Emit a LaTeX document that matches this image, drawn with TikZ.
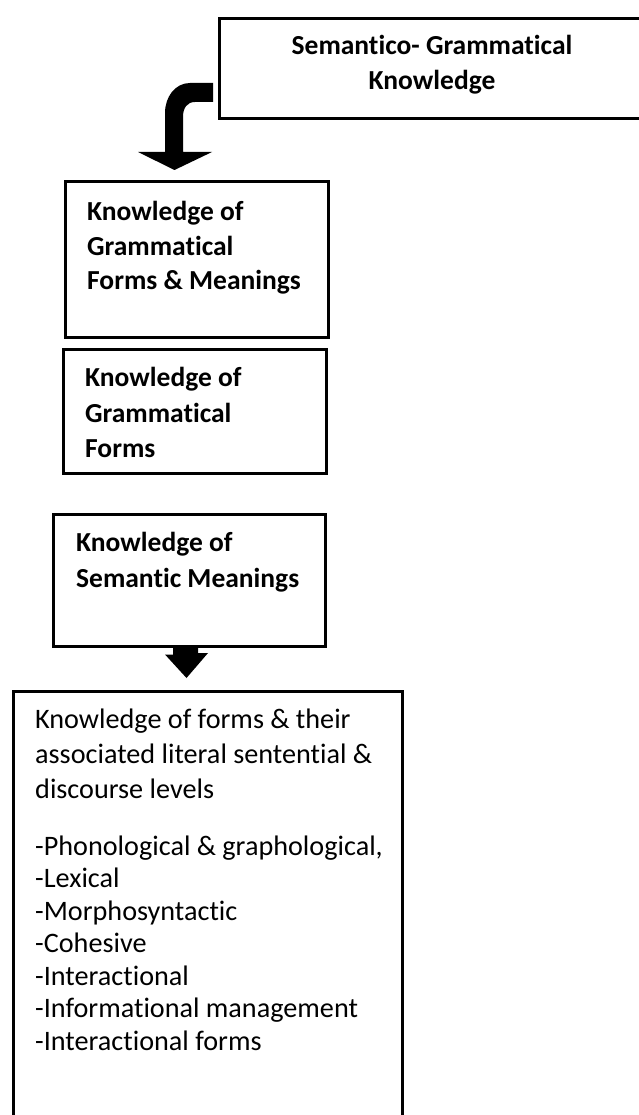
\documentclass[tikz,border=0pt]{standalone}
\usepackage{fontspec}
\setmainfont[Ligatures={NoCommon}]{Carlito}
\usetikzlibrary{calc}
\begin{document}
\begin{tikzpicture}[x=1pt,y=-1pt,
  frame/.style={draw=black, line width=3pt, inner sep=0pt, rectangle},
  heading/.style={font=\fontsize{27.5}{33}\selectfont\bfseries, inner sep=0pt, anchor=base west},
  plain/.style={font=\fontsize{28.2}{33}\selectfont, inner sep=0pt, anchor=base west},
  bigarrow/.style={fill=black, draw=none}]
\useasboundingbox (0,0) rectangle (638,1115);

% top box (runs off the right edge)
\node[frame, minimum width=440.5pt, minimum height=100pt] (sg) at (439.75,68.5) {};
\node[heading, anchor=base] (sg1) at (432,55) {Semantico- Grammatical};
\node[heading, anchor=base] (sg2) at (432,90) {Knowledge};

% knowledge of grammatical forms & meanings
\node[frame, minimum width=262.5pt, minimum height=156pt] (gfm) at (196.75,259.5) {};
\node[heading] (gfm1) at (87,221) {Knowledge of};
\node[heading] (gfm2) at (87,255) {Grammatical};
\node[heading] (gfm3) at (87,289) {Forms \& Meanings};

% knowledge of grammatical forms
\node[frame, minimum width=263pt, minimum height=124.5pt] (gf) at (195,411.25) {};
\node[heading] (gf1) at (85,386) {Knowledge of};
\node[heading] (gf2) at (85,422) {Grammatical};
\node[heading] (gf3) at (85,457) {Forms};

% knowledge of semantic meanings
\node[frame, minimum width=271.5pt, minimum height=132pt] (sm) at (189.25,580) {};
\node[heading] (sm1) at (76,551) {Knowledge of};
\node[heading] (sm2) at (76,587) {Semantic Meanings};

% forms and levels (runs off the bottom edge)
\node[frame, minimum width=388.5pt, minimum height=449pt] (lv) at (207.75,915.5) {};
\node[plain] (lv1) at (35,728) {Knowledge of forms \& their};
\node[plain] (lv2) at (35,763) {associated literal sentential \&};
\node[plain] (lv3) at (35,798) {discourse levels};
\foreach \t [count=\i] in {-Phonological \& graphological{,},-Lexical,-Morphosyntactic,-Cohesive,-Interactional,-Informational management,-Interactional forms}
  \node[plain] (item\i) at (35,{855+32.5*(\i-1)}) {\t};

% bent block arrow from the top box down to the first box
\fill[bigarrow] (213,83) -- (190,83) .. controls (175,83) and (165,97) .. (165,113)
  -- (165,152) -- (138,152) -- (174.5,170) -- (212,152) -- (183,152) -- (183,117)
  .. controls (183,108) and (187,102) .. (195,102) -- (213,102) -- cycle;

% straight block arrow into the bottom box
\fill[bigarrow] ($(sm.south)+(-16.25,0)$) -- ++(0,7) -- ++(-8,0) -- (186.5,678)
  -- (208,653) -- (198,653) -- ($(sm.south)+(8.75,0)$) -- cycle;
\end{tikzpicture}
\end{document}
